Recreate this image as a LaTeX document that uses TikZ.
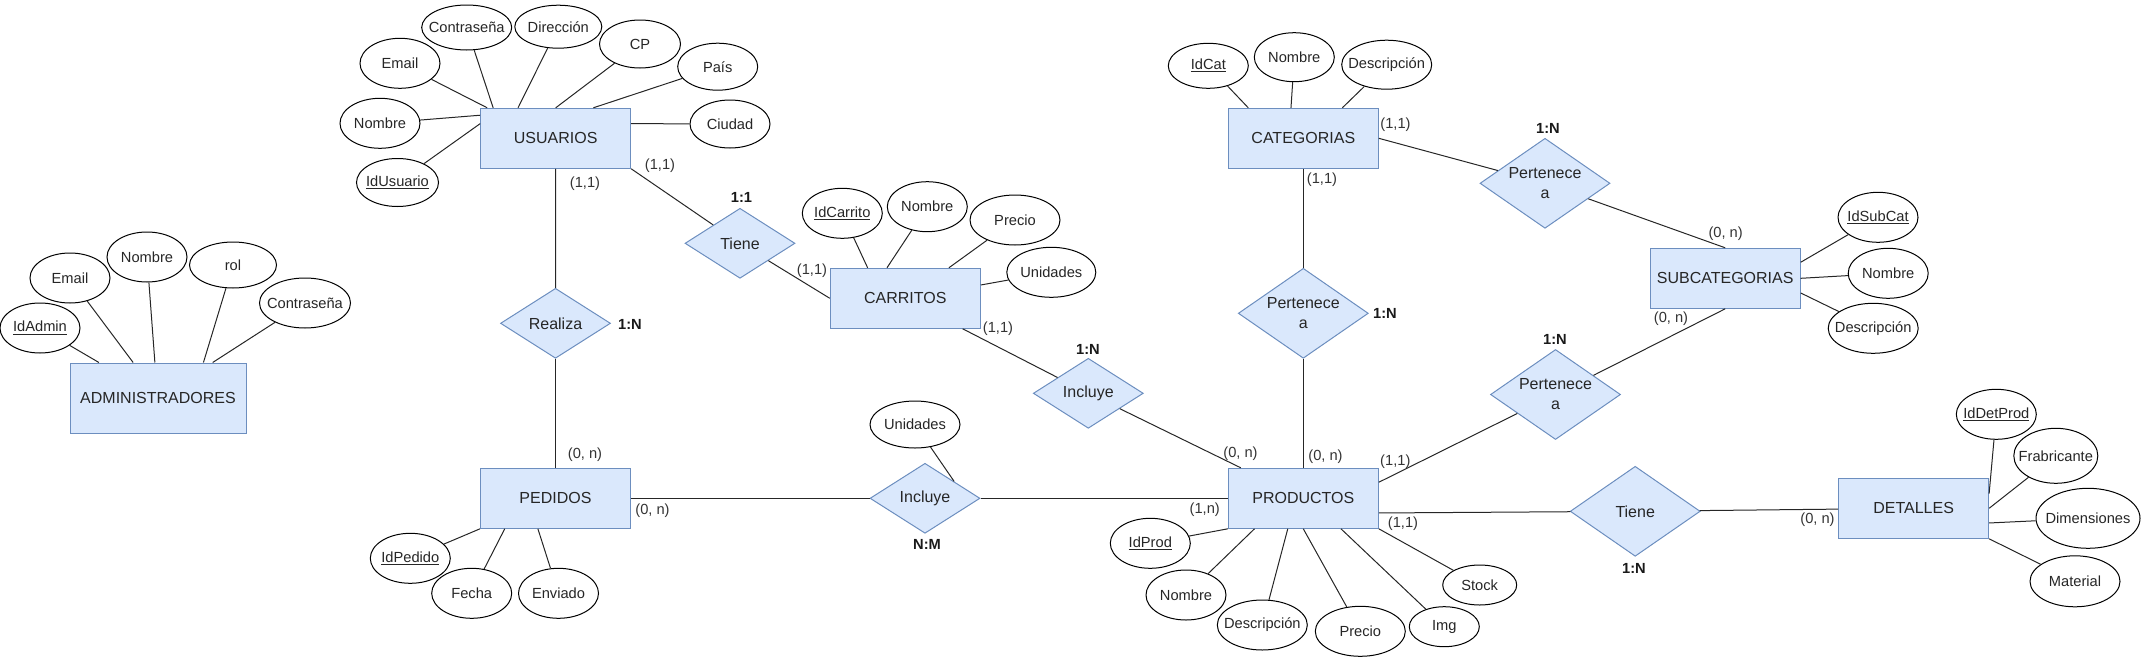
\documentclass[tikz,border=0pt]{standalone}
\usepackage{fontspec}
\setmainfont{Liberation Sans}
\usepackage{xcolor}
\usepackage{tikz}
\usetikzlibrary{shapes.geometric}

\definecolor{entfill}{RGB}{218,232,252}
\definecolor{entline}{RGB}{108,142,191}
% text of an attribute does not widen its ellipse
\newcommand{\tx}[1]{\makebox[0pt]{#1}}

\begin{document}
\begin{tikzpicture}[x=0.75pt,y=0.75pt,yscale=-1,xscale=1,
  ent/.style={draw=entline, fill=entfill, line width=0.75pt, minimum width=112.5pt, minimum height=45pt, inner sep=0pt, text=black!85, font=\fontsize{12}{14}\selectfont},
  rel/.style={diamond, draw=entline, fill=entfill, line width=0.75pt, aspect=1.5, minimum width=82.5pt, minimum height=52.5pt, inner sep=0pt, align=center, text=black!85, font=\fontsize{12}{15}\selectfont},
  relbig/.style={rel, minimum width=97.5pt, minimum height=67.5pt},
  atr/.style={ellipse, draw, line width=0.75pt, minimum width=60pt, minimum height=37.5pt, inner sep=0pt, text=black!85, font=\fontsize{11}{13}\selectfont},
  sz/.style 2 args={minimum width=#1*0.75pt, minimum height=#2*0.75pt},
  card/.style={inner sep=0pt, text=black!80, font=\fontsize{11}{13}\selectfont},
  ratio/.style={inner sep=0pt, text=black!90, font=\fontsize{11}{13}\selectfont\bfseries},
  lnk/.style={line width=0.75pt, black!85}
]
\useasboundingbox (0,0) rectangle (2141,657);

% Entities
\node [ent, sz={176}{70}] (adm) at (158,398) {ADMINISTRADORES};
\node [ent] (usu) at (555.7,138.3) {USUARIOS};
\node [ent] (ped) at (555.5,498.3) {PEDIDOS};
\node [ent] (car) at (905.3,298.3) {CARRITOS};
\node [ent] (prod) at (1303.3,498.3) {PRODUCTOS};
\node [ent] (cat) at (1303.3,138.3) {CATEGORIAS};
\node [ent] (sub) at (1725.2,278.3) {SUBCATEGORIAS};
\node [ent] (det) at (1913.6,508.3) {DETALLES};

% Relationships
\node [rel] (rea) at (555.5,323.3) {Realiza};
\node [rel] (tie) at (740,243.3) {Tiene};
\node [rel] (inc) at (925,498.3) {Incluye};
\node [rel] (incCar) at (1088.3,393.3) {Incluye};
\node [relbig] (perCat) at (1545,183.3) {Pertenece\\a};
\node [relbig] (perProd) at (1303.3,313.3) {Pertenece\\a};
\node [relbig] (perSub) at (1555.5,394.5) {Pertenece\\a};
\node [relbig] (tieDet) at (1635.2,511.3) {Tiene};

% Attributes ADMINISTRADORES
\node [atr] (admId) at (40,328) {\tx{\underline{IdAdmin}}};
\node [atr] (admEmail) at (70,278) {\tx{Email}};
\node [atr] (admNombre) at (147,257) {\tx{Nombre}};
\node [atr, sz={87}{46}] (admRol) at (233,265) {\tx{rol}};
\node [atr, sz={91}{50}] (admPass) at (305,303) {\tx{Contraseña}};

% Attributes USUARIOS
\node [atr] (usuEmail) at (400,63.3) {\tx{Email}};
\node [atr, sz={90}{45}] (usuPass) at (466.7,27.5) {\tx{Contraseña}};
\node [atr, sz={87}{43}] (usuDir) at (558.3,26.7) {\tx{Dirección}};
\node [atr, sz={81}{48}] (usuCP) at (640,44) {\tx{CP}};
\node [atr, sz={80}{47}] (usuPais) at (717.7,66.7) {\tx{País}};
\node [atr, sz={80}{48}] (usuCiudad) at (730,124) {\tx{Ciudad}};
\node [atr] (usuNombre) at (380,123.3) {\tx{Nombre}};
\node [atr, sz={82}{48}] (usuId) at (397.5,182.5) {\tx{\underline{IdUsuario}}};

% Attributes PEDIDOS
\node [atr] (pedId) at (410.3,558.3) {\tx{\underline{IdPedido}}};
\node [atr] (pedFecha) at (471.7,593.3) {\tx{Fecha}};
\node [atr] (pedEnv) at (558.5,593.3) {\tx{Enviado}};
\node [atr, sz={90}{47}] (incUnid) at (915,424.5) {\tx{Unidades}};

% Attributes CARRITOS
\node [atr] (carId) at (842.3,213.3) {\tx{\underline{IdCarrito}}};
\node [atr] (carNombre) at (927.3,206.7) {\tx{Nombre}};
\node [atr, sz={90}{50}] (carPrecio) at (1015,220) {\tx{Precio}};
\node [atr, sz={89}{50}] (carUnid) at (1051.3,272.3) {\tx{Unidades}};

% Attributes PRODUCTOS
\node [atr] (prodId) at (1150.3,543.3) {\tx{\underline{IdProd}}};
\node [atr] (prodNombre) at (1186,595) {\tx{Nombre}};
\node [atr, sz={90}{50}] (prodDesc) at (1262.3,625) {\tx{Descripción}};
\node [atr, sz={90}{50}] (prodPrecio) at (1360.3,631.3) {\tx{Precio}};
\node [atr, sz={70}{40}] (prodImg) at (1444.3,626.7) {\tx{Img}};
\node [atr, sz={74}{40}] (prodStock) at (1479.7,585) {\tx{Stock}};

% Attributes CATEGORIAS
\node [atr, sz={80}{45}] (catId) at (1208.3,65.8) {\tx{\underline{IdCat}}};
\node [atr, sz={80}{49}] (catNombre) at (1294.3,57.2) {\tx{Nombre}};
\node [atr, sz={90}{49}] (catDesc) at (1386.7,64.7) {\tx{Descripción}};

% Attributes SUBCATEGORIAS
\node [atr] (subId) at (1878,217.3) {\tx{\underline{IdSubCat}}};
\node [atr] (subNombre) at (1888.2,273.3) {\tx{Nombre}};
\node [atr, sz={90}{50}] (subDesc) at (1873.2,328.3) {\tx{Descripción}};

% Attributes DETALLES
\node [atr] (detId) at (1996.3,414.3) {\tx{\underline{IdDetProd}}};
\node [atr, sz={84}{55}] (detFab) at (2055.8,455.8) {\tx{Frabricante}};
\node [atr, sz={104}{60}] (detDim) at (2088,518.3) {\tx{Dimensiones}};
\node [atr, sz={90}{51}] (detMat) at (2075,581.3) {\tx{Material}};

%Straight Lines (attributes)
\draw [lnk] (admId) -- (adm.149);
\draw [lnk] (admEmail) -- (adm.125);
\draw [lnk] (admNombre) -- (adm.95);
\draw [lnk] (admRol) -- (adm.38);
\draw [lnk] (admPass) -- (adm.33);
\draw [lnk] (usuEmail) -- (usu.156);
\draw [lnk] (usuPass) -- (usu.154);
\draw [lnk] (usuDir) -- (usu.141);
\draw [lnk] (usuCP) -- (usu.90);
\draw [lnk] (usuPais) -- (usu.39);
\draw [lnk] (usuCiudad) -- (usu.11);
\draw [lnk] (usuNombre) -- (usu.163);
\draw [lnk] (usuId) -- (usu.169);
\draw [lnk] (pedId) -- (ped.south west);
\draw [lnk] (pedFecha) -- (ped.211);
\draw [lnk] (pedEnv) -- (ped.240);
\draw [lnk] (incUnid) -- (inc.30);
\draw [lnk] (carId) -- (car.141);
\draw [lnk] (carNombre) -- (car.121);
\draw [lnk] (carPrecio) -- (car.35);
\draw [lnk] (carUnid) -- (car.10);
\draw [lnk] (prodId) -- (prod.south west);
\draw [lnk] (prodNombre) -- (prod.212);
\draw [lnk] (prodDesc) -- (prod.243);
\draw [lnk] (prodPrecio) -- (prod.south);
\draw [lnk] (prodImg) -- (prod.321);
\draw [lnk] (prodStock) -- (prod.south east);
\draw [lnk] (catId) -- (cat.151);
\draw [lnk] (catNombre) -- (cat.112);
\draw [lnk] (catDesc) -- (cat.38);
\draw [lnk] (subId) -- (sub.12);
\draw [lnk] (subNombre) -- (sub.east);
\draw [lnk] (subDesc) -- (sub.349);
\draw [lnk] (detId) -- (det.11);
\draw [lnk] (detFab) -- (det.east);
\draw [lnk] (detDim) -- (det.349);
\draw [lnk] (detMat) -- (det.south east);

%Straight Lines (relationships)
\draw [lnk] (usu) -- (rea);
\draw [lnk] (rea) -- (ped);
\draw [lnk] (usu.south east) -- (tie);
\draw [lnk] (tie) -- (car.west);
\draw [lnk] (ped) -- (inc);
\draw [lnk] (inc) -- (prod);
\draw [lnk] (car.332) -- (incCar);
\draw [lnk] (incCar) -- (prod.154);
\draw [lnk] (cat) -- (perProd);
\draw [lnk] (perProd) -- (prod);
\draw [lnk] (cat.east) -- (perCat);
\draw [lnk] (perCat) -- (sub.north);
\draw [lnk] (sub.south) -- (perSub);
\draw [lnk] (perSub) -- (prod.12);
\draw [lnk] (prod.349) -- (tieDet);
\draw [lnk] (tieDet) -- (det);

% Text Node
\node [card] (c1) at (660,166) {(1,1)};
\node [card] (c2) at (585,183.5) {(1,1)};
\node [ratio] (r1) at (741.5,197) {1:1};
\node [ratio] (r2) at (630,324) {1:N};
\node [card] (c3) at (585,455) {(0, n)};
\node [card] (c4) at (652.5,510.5) {(0, n)};
\node [ratio] (r3) at (927,544) {N:M};
\node [card] (c5) at (812,270.5) {(1,1)};
\node [card] (c6) at (998,328.5) {(1,1)};
\node [ratio] (r4) at (1088,349) {1:N};
\node [card] (c7) at (1204.7,510) {(1,n)};
\node [card] (c8) at (1240.5,453.5) {(0, n)};
\node [card] (c9) at (1325.5,456.5) {(0, n)};
\node [card] (c10) at (1395.3,461.5) {(1,1)};
\node [card] (c11) at (1403,523.5) {(1,1)};
\node [card] (c12) at (1395.5,125) {(1,1)};
\node [ratio] (r5) at (1548,128) {1:N};
\node [card] (c13) at (1322,180) {(1,1)};
\node [ratio] (r6) at (1385,313.5) {1:N};
\node [card] (c14) at (1725.6,234) {(0, n)};
\node [card] (c15) at (1671,319) {(0, n)};
\node [ratio] (r7) at (1555,339) {1:N};
\node [ratio] (r8) at (1634,568) {1:N};
\node [card] (c16) at (1817.5,519.7) {(0, n)};

\end{tikzpicture}
\end{document}
